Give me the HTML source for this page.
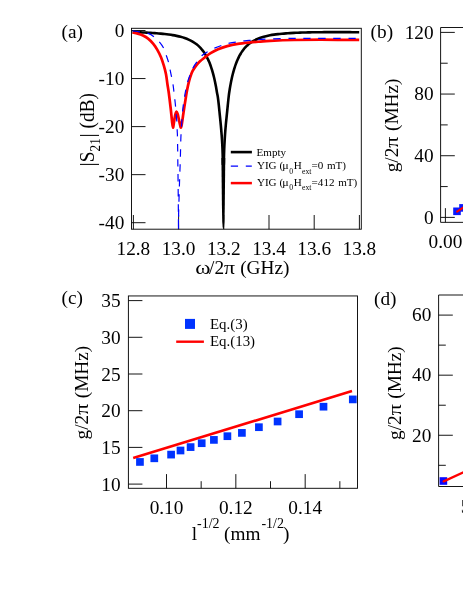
<!DOCTYPE html>
<html lang="en"><head><meta charset="utf-8"><title>Figure</title>
<style>html,body{margin:0;padding:0;background:#fff}svg{display:block;will-change:transform}text{font-family:"Liberation Serif", serif;fill:#000}</style></head><body>
<svg width="463" height="599" viewBox="0 0 463 599">
<rect width="463" height="599" fill="#fff"/>
<clipPath id="ca"><rect x="131.5" y="28.3" width="229.8" height="200.89999999999998"/></clipPath>
<line x1="131.50" y1="30.50" x2="145.50" y2="30.50" stroke="#0a0a0a" stroke-width="0.95" />
<text x="124.30" y="36.70" font-size="19.3" text-anchor="end" >0</text>
<line x1="131.50" y1="78.55" x2="145.50" y2="78.55" stroke="#0a0a0a" stroke-width="0.95" />
<text x="124.30" y="84.75" font-size="19.3" text-anchor="end" >-10</text>
<line x1="131.50" y1="126.60" x2="145.50" y2="126.60" stroke="#0a0a0a" stroke-width="0.95" />
<text x="124.30" y="132.80" font-size="19.3" text-anchor="end" >-20</text>
<line x1="131.50" y1="174.65" x2="145.50" y2="174.65" stroke="#0a0a0a" stroke-width="0.95" />
<text x="124.30" y="180.85" font-size="19.3" text-anchor="end" >-30</text>
<line x1="131.50" y1="222.70" x2="145.50" y2="222.70" stroke="#0a0a0a" stroke-width="0.95" />
<text x="124.30" y="228.90" font-size="19.3" text-anchor="end" >-40</text>
<line x1="133.40" y1="229.20" x2="133.40" y2="215.00" stroke="#0a0a0a" stroke-width="0.95" />
<text x="133.40" y="254.70" font-size="19.3" text-anchor="middle" >12.8</text>
<line x1="178.60" y1="229.20" x2="178.60" y2="215.00" stroke="#0a0a0a" stroke-width="0.95" />
<text x="178.60" y="254.70" font-size="19.3" text-anchor="middle" >13.0</text>
<line x1="223.80" y1="229.20" x2="223.80" y2="215.00" stroke="#0a0a0a" stroke-width="0.95" />
<text x="223.80" y="254.70" font-size="19.3" text-anchor="middle" >13.2</text>
<line x1="269.00" y1="229.20" x2="269.00" y2="215.00" stroke="#0a0a0a" stroke-width="0.95" />
<text x="269.00" y="254.70" font-size="19.3" text-anchor="middle" >13.4</text>
<line x1="314.20" y1="229.20" x2="314.20" y2="215.00" stroke="#0a0a0a" stroke-width="0.95" />
<text x="314.20" y="254.70" font-size="19.3" text-anchor="middle" >13.6</text>
<line x1="359.40" y1="229.20" x2="359.40" y2="215.00" stroke="#0a0a0a" stroke-width="0.95" />
<text x="359.40" y="254.70" font-size="19.3" text-anchor="middle" >13.8</text>
<g clip-path="url(#ca)" fill="none" stroke-linejoin="round">
<path d="M132.60,32.12 C133.27,32.14 135.27,32.20 136.60,32.25 C137.93,32.29 139.27,32.34 140.60,32.39 C141.93,32.45 143.27,32.51 144.60,32.57 C145.93,32.63 147.27,32.70 148.60,32.77 C149.93,32.84 151.27,32.92 152.60,33.01 C153.93,33.10 155.27,33.19 156.60,33.29 C157.93,33.40 159.27,33.51 160.60,33.63 C161.93,33.76 163.27,33.89 164.60,34.04 C165.93,34.19 167.27,34.35 168.60,34.53 C169.93,34.72 171.27,34.91 172.60,35.14 C173.93,35.36 175.27,35.61 176.60,35.89 C177.93,36.17 179.27,36.47 180.60,36.83 C181.93,37.19 183.27,37.57 184.60,38.03 C185.93,38.49 187.27,38.98 188.60,39.58 C189.93,40.17 191.27,40.82 192.60,41.61 C193.93,42.40 195.37,43.36 196.60,44.32 C197.83,45.29 199.27,46.70 200.00,47.40 C200.73,48.09 200.67,48.10 201.00,48.47 C201.33,48.85 201.67,49.24 202.00,49.64 C202.33,50.05 202.67,50.48 203.00,50.92 C203.33,51.37 203.67,51.83 204.00,52.31 C204.33,52.80 204.67,53.31 205.00,53.84 C205.33,54.37 205.67,54.92 206.00,55.51 C206.33,56.09 206.67,56.70 207.00,57.34 C207.33,57.98 207.67,58.65 208.00,59.36 C208.33,60.07 208.67,60.81 209.00,61.59 C209.33,62.37 209.67,63.19 210.00,64.06 C210.33,64.93 210.67,65.84 211.00,66.81 C211.33,67.78 211.67,68.79 212.00,69.87 C212.33,70.96 212.67,72.09 213.00,73.32 C213.33,74.54 213.67,75.82 214.00,77.21 C214.33,78.60 214.67,80.06 215.00,81.65 C215.33,83.24 215.67,84.91 216.00,86.76 C216.33,88.61 216.68,90.94 217.00,92.73 C217.32,94.52 217.60,95.46 217.90,97.50 C218.20,99.54 218.48,102.08 218.80,105.00 C219.12,107.92 219.47,111.67 219.80,115.00 C220.13,118.33 220.49,121.67 220.80,125.00 C221.11,128.33 221.40,131.67 221.65,135.00 C221.90,138.33 222.13,141.83 222.30,145.00 C222.47,148.17 222.55,150.67 222.65,154.00 C222.75,157.33 222.86,163.17 222.90,165.00" stroke="#000" stroke-width="2.6"/>
<path d="M223.80,165.00 C223.84,163.17 223.95,157.33 224.05,154.00 C224.15,150.67 224.24,148.17 224.40,145.00 C224.56,141.83 224.77,138.33 225.00,135.00 C225.23,131.67 225.50,128.33 225.80,125.00 C226.10,121.67 226.47,118.33 226.80,115.00 C227.13,111.67 227.47,108.23 227.80,105.00 C228.13,101.77 228.47,98.30 228.80,95.60 C229.13,92.91 229.47,90.90 229.80,88.82 C230.13,86.74 230.47,84.88 230.80,83.12 C231.13,81.36 231.47,79.76 231.80,78.25 C232.13,76.73 232.47,75.34 232.80,74.02 C233.13,72.70 233.47,71.48 233.80,70.31 C234.13,69.15 234.47,68.07 234.80,67.04 C235.13,66.01 235.47,65.05 235.80,64.13 C236.13,63.21 236.47,62.35 236.80,61.53 C237.13,60.71 237.47,59.93 237.80,59.19 C238.13,58.45 238.47,57.76 238.80,57.09 C239.13,56.42 239.47,55.79 239.80,55.18 C240.13,54.58 240.47,54.01 240.80,53.46 C241.13,52.91 241.47,52.39 241.80,51.89 C242.13,51.39 242.47,50.91 242.80,50.46 C243.13,50.00 243.47,49.57 243.80,49.15 C244.13,48.74 244.47,48.34 244.80,47.96 C245.13,47.58 245.47,47.21 245.80,46.86 C246.13,46.51 246.47,46.18 246.80,45.86 C247.13,45.54 247.47,45.23 247.80,44.94 C248.13,44.64 248.47,44.36 248.80,44.08 C249.13,43.81 249.60,43.46 249.80,43.30 C250.00,43.14 249.30,43.60 250.00,43.15 C250.70,42.70 252.67,41.34 254.00,40.60 C255.33,39.86 256.67,39.26 258.00,38.71 C259.33,38.15 260.67,37.70 262.00,37.28 C263.33,36.86 264.67,36.51 266.00,36.18 C267.33,35.86 268.67,35.58 270.00,35.33 C271.33,35.08 272.67,34.86 274.00,34.66 C275.33,34.46 276.67,34.29 278.00,34.13 C279.33,33.97 280.67,33.84 282.00,33.71 C283.33,33.58 284.67,33.47 286.00,33.37 C287.33,33.27 288.67,33.18 290.00,33.10 C291.33,33.01 292.67,32.94 294.00,32.88 C295.33,32.81 296.67,32.75 298.00,32.70 C299.33,32.64 300.67,32.60 302.00,32.55 C303.33,32.51 304.67,32.47 306.00,32.44 C307.33,32.41 308.67,32.38 310.00,32.35 C311.33,32.32 312.67,32.30 314.00,32.28 C315.33,32.26 316.67,32.24 318.00,32.22 C319.33,32.21 320.67,32.20 322.00,32.18 C323.33,32.17 324.67,32.16 326.00,32.16 C327.33,32.15 328.67,32.14 330.00,32.14 C331.33,32.14 332.67,32.13 334.00,32.13 C335.33,32.13 336.67,32.13 338.00,32.13 C339.33,32.13 340.67,32.13 342.00,32.14 C343.33,32.14 344.67,32.14 346.00,32.15 C347.33,32.15 348.67,32.16 350.00,32.17 C351.33,32.17 352.67,32.18 354.00,32.19 C355.33,32.20 357.13,32.21 358.00,32.22 C358.87,32.22 359.00,32.22 359.20,32.22" stroke="#000" stroke-width="2.6"/>
<path d="M221.42,158 L221.6,177 L221.9,205 L222.2,221 L222.6,226.5 L223.1,229.2 L223.6,229.2 L224.1,226.5 L224.5,221 L224.8,205 L225.1,177 L225.28,158 Z" fill="#000" stroke="none"/>
<path d="M132.60,32.60 C133.47,32.77 136.07,33.12 137.80,33.60 C139.53,34.08 141.28,34.67 143.00,35.50 C144.72,36.33 146.38,37.22 148.10,38.60 C149.82,39.98 151.78,41.97 153.30,43.80 C154.82,45.63 155.90,47.33 157.20,49.60 C158.50,51.87 160.02,54.80 161.10,57.40 C162.18,60.00 162.88,62.40 163.70,65.20 C164.52,68.00 165.38,71.07 166.00,74.20 C166.62,77.33 166.93,80.87 167.40,84.00 C167.87,87.13 168.25,88.92 168.80,93.00 C169.35,97.08 170.17,103.83 170.70,108.50 C171.23,113.17 171.62,117.82 172.00,121.00 C172.38,124.18 172.65,127.52 173.00,127.60 C173.35,127.68 173.72,123.68 174.10,121.50 C174.48,119.32 174.88,116.13 175.30,114.50 C175.72,112.87 176.18,111.70 176.60,111.70 C177.02,111.70 177.40,113.12 177.80,114.50 C178.20,115.88 178.62,118.25 179.00,120.00 C179.38,121.75 179.77,123.73 180.10,125.00 C180.43,126.27 180.68,127.93 181.00,127.60 C181.32,127.27 181.62,125.27 182.00,123.00 C182.38,120.73 182.90,116.73 183.30,114.00 C183.70,111.27 184.03,109.00 184.40,106.60 C184.77,104.20 185.13,101.90 185.50,99.60 C185.87,97.30 186.17,95.22 186.60,92.80 C187.03,90.38 187.53,87.60 188.10,85.10 C188.67,82.60 189.27,80.12 190.00,77.80 C190.73,75.48 191.48,73.23 192.50,71.20 C193.52,69.17 194.85,67.25 196.10,65.60 C197.35,63.95 198.60,62.62 200.00,61.30 C201.40,59.98 202.73,59.05 204.50,57.70 C206.27,56.35 208.33,54.62 210.60,53.20 C212.87,51.78 215.33,50.38 218.10,49.20 C220.87,48.02 223.92,46.98 227.20,46.10 C230.48,45.22 234.02,44.50 237.80,43.90 C241.58,43.30 246.12,42.88 249.90,42.50 C253.68,42.12 257.15,41.87 260.50,41.60 C263.85,41.33 264.42,41.17 270.00,40.90 C275.58,40.63 285.50,40.20 294.00,40.00 C302.50,39.80 310.13,39.71 321.00,39.70 C331.87,39.69 352.83,39.91 359.20,39.95" stroke="#ff0000" stroke-width="2.7"/>
<path d="M132.60,30.80 C133.83,30.97 137.42,31.37 140.00,31.80 C142.58,32.23 145.77,32.58 148.10,33.40 C150.43,34.22 152.15,35.30 154.00,36.70 C155.85,38.10 157.58,39.87 159.20,41.80 C160.82,43.73 162.52,46.02 163.70,48.30 C164.88,50.58 165.48,53.12 166.30,55.50 C167.12,57.88 167.95,60.12 168.60,62.60 C169.25,65.08 169.68,67.92 170.20,70.40 C170.72,72.88 171.22,75.03 171.70,77.50 C172.18,79.97 172.72,82.73 173.10,85.20 C173.48,87.67 173.70,89.82 174.00,92.30 C174.30,94.78 174.62,97.50 174.90,100.10 C175.18,102.70 175.47,105.32 175.70,107.90 C175.93,110.48 176.10,113.12 176.30,115.60 C176.50,118.08 176.75,120.32 176.90,122.80 C177.05,125.28 177.10,128.02 177.20,130.50 C177.30,132.98 177.40,132.78 177.50,137.70 C177.60,142.62 177.70,152.52 177.80,160.00 C177.90,167.48 178.00,173.43 178.10,182.60 C178.20,191.77 178.33,206.62 178.40,215.00 C178.47,223.38 178.47,232.90 178.50,232.90 C178.53,232.90 178.43,223.38 178.60,215.00 C178.77,206.62 179.22,191.77 179.50,182.60 C179.78,173.43 180.08,167.10 180.30,160.00 C180.52,152.90 180.63,145.00 180.80,140.00 C180.97,135.00 181.03,134.50 181.30,130.00 C181.57,125.50 182.02,117.50 182.40,113.00 C182.78,108.50 183.20,105.98 183.60,103.00 C184.00,100.02 184.37,97.58 184.80,95.10 C185.23,92.62 185.67,90.52 186.20,88.10 C186.73,85.68 187.33,82.85 188.00,80.60 C188.67,78.35 189.33,76.77 190.20,74.60 C191.07,72.43 192.07,69.73 193.20,67.60 C194.33,65.47 195.48,63.85 197.00,61.80 C198.52,59.75 200.53,56.97 202.30,55.30 C204.07,53.63 205.47,53.03 207.60,51.80 C209.73,50.57 212.58,49.03 215.10,47.90 C217.62,46.77 220.30,45.78 222.70,45.00 C225.10,44.22 227.12,43.72 229.50,43.20 C231.88,42.68 234.48,42.30 237.00,41.90 C239.52,41.50 242.07,41.08 244.60,40.80 C247.13,40.52 249.68,40.42 252.20,40.20 C254.72,39.98 257.32,39.68 259.70,39.50 C262.08,39.32 260.78,39.29 266.50,39.10 C272.22,38.91 284.92,38.48 294.00,38.35 C303.08,38.22 310.13,38.29 321.00,38.30 C331.87,38.31 352.83,38.38 359.20,38.40" stroke="#0000ff" stroke-width="1.2" stroke-dasharray="7.4 7.6"/>
</g>
<rect x="131.50" y="28.30" width="229.80" height="200.90" fill="none" stroke="#0a0a0a" stroke-width="0.95"/>
<line x1="230.80" y1="152.10" x2="251.90" y2="152.10" stroke="#000" stroke-width="2.6" />
<line x1="230.80" y1="166.15" x2="251.80" y2="166.15" stroke="#0000ff" stroke-width="1.25" stroke-dasharray="7.25 7.75"/>
<line x1="230.80" y1="183.10" x2="251.90" y2="183.10" stroke="#ff0000" stroke-width="2.5" />
<text x="256.50" y="155.60" font-size="11.1" text-anchor="start" >Empty</text>
<text x="256.90" y="169.40" font-size="11.1" text-anchor="start" >YIG (</text>
<g transform="translate(282.20,169.40)">
<text font-size="11.1" transform="translate(0.00,0.00) scale(1.08,1.0)">μ</text>
</g>
<text x="289.20" y="173.80" font-size="7.7" text-anchor="start" >0</text>
<text x="293.70" y="169.40" font-size="11.1" text-anchor="start" >H</text>
<text x="302.00" y="173.80" font-size="7.7" text-anchor="start" textLength="9.4" lengthAdjust="spacing">ext</text>
<text x="311.60" y="169.40" font-size="11.1" text-anchor="start" >=0</text>
<text x="326.90" y="169.40" font-size="11.1" text-anchor="start" >mT)</text>
<text x="256.90" y="186.00" font-size="11.1" text-anchor="start" >YIG (</text>
<g transform="translate(282.20,186.00)">
<text font-size="11.1" transform="translate(0.00,0.00) scale(1.08,1.0)">μ</text>
</g>
<text x="289.20" y="190.40" font-size="7.7" text-anchor="start" >0</text>
<text x="293.70" y="186.00" font-size="11.1" text-anchor="start" >H</text>
<text x="302.00" y="190.40" font-size="7.7" text-anchor="start" textLength="9.4" lengthAdjust="spacing">ext</text>
<text x="311.60" y="186.00" font-size="11.1" text-anchor="start" >=412</text>
<text x="338.20" y="186.00" font-size="11.1" text-anchor="start" >mT)</text>
<text x="61.60" y="38.00" font-size="19.3" text-anchor="start" >(a)</text>
<g transform="translate(195.30,273.70)">
<text font-size="19.3" transform="translate(0.00,0.00) scale(1.2,1.0)">ω</text>
<text x="13.74" y="0.00" font-size="19.3">/2</text>
<text font-size="19.3" transform="translate(28.76,0.00) scale(1.13,1.0)">π</text>
<text x="44.89" y="0.00" font-size="19.3">(GHz)</text>
</g>
<g transform="translate(93.80,166.40) rotate(-90)">
<text x="0.00" y="0.00" font-size="21.0">|</text>
<text font-size="19.3" transform="translate(4.20,0.00) scale(1.0,1.05)">S</text>
<text font-size="13.2" transform="translate(14.94,6.30) scale(1.0,1.15)">21</text>
<text x="28.84" y="0.00" font-size="21.0">|</text>
<text font-size="19.3" transform="translate(37.87,0.00) scale(1.0,1.05)">(dB)</text>
</g>
<line x1="440.60" y1="217.40" x2="454.80" y2="217.40" stroke="#0a0a0a" stroke-width="0.95" />
<text x="433.60" y="223.80" font-size="19.3" text-anchor="end" >0</text>
<line x1="440.60" y1="155.73" x2="454.80" y2="155.73" stroke="#0a0a0a" stroke-width="0.95" />
<text x="433.60" y="162.13" font-size="19.3" text-anchor="end" >40</text>
<line x1="440.60" y1="94.06" x2="454.80" y2="94.06" stroke="#0a0a0a" stroke-width="0.95" />
<text x="433.60" y="100.46" font-size="19.3" text-anchor="end" >80</text>
<line x1="440.60" y1="32.40" x2="454.80" y2="32.40" stroke="#0a0a0a" stroke-width="0.95" />
<text x="433.60" y="38.80" font-size="19.3" text-anchor="end" >120</text>
<line x1="440.60" y1="186.57" x2="447.70" y2="186.57" stroke="#0a0a0a" stroke-width="0.95" />
<line x1="440.60" y1="124.90" x2="447.70" y2="124.90" stroke="#0a0a0a" stroke-width="0.95" />
<line x1="440.60" y1="63.23" x2="447.70" y2="63.23" stroke="#0a0a0a" stroke-width="0.95" />
<line x1="445.40" y1="222.35" x2="445.40" y2="208.15" stroke="#0a0a0a" stroke-width="0.95" />
<path d="M470,27.50 H440.60 V222.35 H470" fill="none" stroke="#0a0a0a" stroke-width="0.95"/>
<text x="428.60" y="247.70" font-size="19.3" text-anchor="start" >0.00</text>
<text x="370.60" y="38.00" font-size="19.3" text-anchor="start" >(b)</text>
<g transform="translate(398.40,172.30) rotate(-90)">
<text font-size="19.3" transform="translate(0.00,0.00) scale(1.0,1.03)">g/2</text>
<text font-size="19.3" transform="translate(24.66,0.00) scale(1.13,1.03)">π</text>
<text font-size="19.3" transform="translate(41.30,0.00) scale(1.0,1.03)">(MHz)</text>
</g>
<rect x="453.20" y="207.50" width="7.6" height="7.6" fill="#0818ff"/>
<rect x="459.20" y="204.10" width="7.6" height="7.6" fill="#0818ff"/>
<line x1="457.10" y1="211.70" x2="464.00" y2="207.00" stroke="#ff0000" stroke-width="2.0" stroke-linecap="round"/>
<line x1="128.40" y1="484.10" x2="142.40" y2="484.10" stroke="#0a0a0a" stroke-width="0.95" />
<text x="120.60" y="490.80" font-size="19.3" text-anchor="end" >10</text>
<line x1="128.40" y1="447.40" x2="142.40" y2="447.40" stroke="#0a0a0a" stroke-width="0.95" />
<text x="120.60" y="454.10" font-size="19.3" text-anchor="end" >15</text>
<line x1="128.40" y1="410.70" x2="142.40" y2="410.70" stroke="#0a0a0a" stroke-width="0.95" />
<text x="120.60" y="417.40" font-size="19.3" text-anchor="end" >20</text>
<line x1="128.40" y1="374.00" x2="142.40" y2="374.00" stroke="#0a0a0a" stroke-width="0.95" />
<text x="120.60" y="380.70" font-size="19.3" text-anchor="end" >25</text>
<line x1="128.40" y1="337.30" x2="142.40" y2="337.30" stroke="#0a0a0a" stroke-width="0.95" />
<text x="120.60" y="344.00" font-size="19.3" text-anchor="end" >30</text>
<line x1="128.40" y1="300.60" x2="142.40" y2="300.60" stroke="#0a0a0a" stroke-width="0.95" />
<text x="120.60" y="307.30" font-size="19.3" text-anchor="end" >35</text>
<line x1="166.50" y1="488.30" x2="166.50" y2="474.10" stroke="#0a0a0a" stroke-width="0.95" />
<text x="166.50" y="514.00" font-size="19.3" text-anchor="middle" >0.10</text>
<line x1="235.84" y1="488.30" x2="235.84" y2="474.10" stroke="#0a0a0a" stroke-width="0.95" />
<text x="235.84" y="514.00" font-size="19.3" text-anchor="middle" >0.12</text>
<line x1="305.18" y1="488.30" x2="305.18" y2="474.10" stroke="#0a0a0a" stroke-width="0.95" />
<text x="305.18" y="514.00" font-size="19.3" text-anchor="middle" >0.14</text>
<line x1="201.17" y1="488.30" x2="201.17" y2="481.20" stroke="#0a0a0a" stroke-width="0.95" />
<line x1="270.51" y1="488.30" x2="270.51" y2="481.20" stroke="#0a0a0a" stroke-width="0.95" />
<line x1="339.85" y1="488.30" x2="339.85" y2="481.20" stroke="#0a0a0a" stroke-width="0.95" />
<line x1="133.20" y1="457.90" x2="352.00" y2="391.10" stroke="#ff0000" stroke-width="2.6" />
<rect x="136.10" y="458.10" width="7.7" height="7.7" fill="#0033ff"/>
<rect x="150.45" y="454.45" width="7.7" height="7.7" fill="#0033ff"/>
<rect x="167.25" y="450.75" width="7.7" height="7.7" fill="#0033ff"/>
<rect x="176.65" y="446.65" width="7.7" height="7.7" fill="#0033ff"/>
<rect x="186.75" y="443.25" width="7.7" height="7.7" fill="#0033ff"/>
<rect x="197.85" y="439.35" width="7.7" height="7.7" fill="#0033ff"/>
<rect x="210.05" y="436.05" width="7.7" height="7.7" fill="#0033ff"/>
<rect x="223.55" y="432.35" width="7.7" height="7.7" fill="#0033ff"/>
<rect x="238.05" y="429.05" width="7.7" height="7.7" fill="#0033ff"/>
<rect x="255.05" y="423.35" width="7.7" height="7.7" fill="#0033ff"/>
<rect x="273.75" y="417.65" width="7.7" height="7.7" fill="#0033ff"/>
<rect x="295.25" y="410.35" width="7.7" height="7.7" fill="#0033ff"/>
<rect x="319.65" y="402.85" width="7.7" height="7.7" fill="#0033ff"/>
<rect x="348.95" y="395.55" width="7.7" height="7.7" fill="#0033ff"/>
<rect x="128.40" y="295.95" width="229.10" height="192.35" fill="none" stroke="#0a0a0a" stroke-width="0.95"/>
<rect x="185.00" y="318.90" width="10.0" height="10.0" fill="#0033ff"/>
<line x1="176.20" y1="341.70" x2="203.90" y2="341.70" stroke="#ff0000" stroke-width="2.4" />
<text x="210.00" y="328.70" font-size="14.9" text-anchor="start" >Eq.(3)</text>
<text x="210.00" y="346.40" font-size="14.9" text-anchor="start" >Eq.(13)</text>
<text x="61.50" y="304.00" font-size="19.3" text-anchor="start" >(c)</text>
<g transform="translate(88.00,439.50) rotate(-90)">
<text font-size="19.3" transform="translate(0.00,0.00) scale(1.0,1.03)">g/2</text>
<text font-size="19.3" transform="translate(24.66,0.00) scale(1.13,1.03)">π</text>
<text font-size="19.3" transform="translate(41.30,0.00) scale(1.0,1.03)">(MHz)</text>
</g>
<text x="191.70" y="539.50" font-size="19.3" text-anchor="start" >l</text>
<g transform="translate(197.00,527.80)">
<text font-size="14.0" transform="translate(0.00,0.00) scale(1.0,1.1)">-1/2</text>
</g>
<text x="224.10" y="539.50" font-size="19.3" text-anchor="start" >(mm</text>
<g transform="translate(261.40,527.80)">
<text font-size="14.0" transform="translate(0.00,0.00) scale(1.0,1.1)">-1/2</text>
</g>
<text x="283.00" y="539.50" font-size="19.3" text-anchor="start" >)</text>
<line x1="438.60" y1="435.26" x2="452.80" y2="435.26" stroke="#0a0a0a" stroke-width="0.95" />
<text x="431.30" y="441.56" font-size="19.3" text-anchor="end" >20</text>
<line x1="438.60" y1="375.18" x2="452.80" y2="375.18" stroke="#0a0a0a" stroke-width="0.95" />
<text x="431.30" y="381.48" font-size="19.3" text-anchor="end" >40</text>
<line x1="438.60" y1="315.10" x2="452.80" y2="315.10" stroke="#0a0a0a" stroke-width="0.95" />
<text x="431.30" y="321.40" font-size="19.3" text-anchor="end" >60</text>
<line x1="438.60" y1="465.30" x2="445.80" y2="465.30" stroke="#0a0a0a" stroke-width="0.95" />
<line x1="438.60" y1="405.22" x2="445.80" y2="405.22" stroke="#0a0a0a" stroke-width="0.95" />
<line x1="438.60" y1="345.14" x2="445.80" y2="345.14" stroke="#0a0a0a" stroke-width="0.95" />
<path d="M470,295.00 H438.60 V486.50 H470" fill="none" stroke="#0a0a0a" stroke-width="0.95"/>
<rect x="439.60" y="477.20" width="7.6" height="7.6" fill="#0808ff"/>
<line x1="443.70" y1="481.40" x2="464.00" y2="472.15" stroke="#ff0000" stroke-width="2.3" stroke-linecap="round"/>
<text x="374.00" y="305.40" font-size="19.3" text-anchor="start" >(d)</text>
<text x="460.70" y="513.30" font-size="19.3" text-anchor="start" >5</text>
<g transform="translate(400.90,440.00) rotate(-90)">
<text font-size="19.3" transform="translate(0.00,0.00) scale(1.0,1.03)">g/2</text>
<text font-size="19.3" transform="translate(24.66,0.00) scale(1.13,1.03)">π</text>
<text font-size="19.3" transform="translate(41.30,0.00) scale(1.0,1.03)">(MHz)</text>
</g>
</svg></body></html>
